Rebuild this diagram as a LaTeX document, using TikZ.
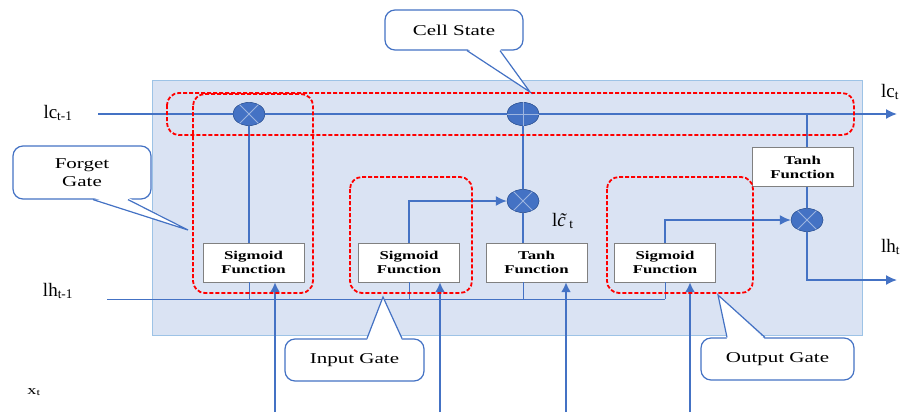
\documentclass[tikz,border=0pt]{standalone}
\usepackage{fontspec}
\setmainfont[FakeStretch=1.4]{Liberation Serif}
\newfontfamily\labelfont{Liberation Serif}
\usetikzlibrary{arrows.meta,shapes.geometric}
\definecolor{lstmblue}{HTML}{4472C4}
\definecolor{opdark}{HTML}{2F528F}
\definecolor{crossblue}{HTML}{9DB5E0}
\definecolor{cellbg}{HTML}{DAE3F3}
\definecolor{cellframe}{HTML}{9DC3E6}
\tikzset{
  fnbox/.style={draw=gray,fill=white,minimum width=101pt,minimum height=39pt,inner sep=0pt,align=center,font=\fontsize{12}{14}\selectfont\bfseries},
  opnode/.style={ellipse,fill=lstmblue,draw=opdark,minimum width=32pt,minimum height=23pt,inner sep=0pt},
  gatebox/.style={draw=red,line width=1.8pt,dash pattern=on 4pt off 2pt,rounded corners=12pt},
  note/.style={draw=lstmblue,line width=1.2pt,fill=white,rounded corners=10pt,inner sep=0pt,align=center,font=\fontsize{15}{18}\selectfont},
  pointer/.style={draw=lstmblue,line width=1.2pt},
  flow/.style={draw=lstmblue,line width=1.6pt},
  wire/.style={draw=lstmblue,line width=1pt},
  feed/.style={draw=lstmblue,line width=2.8pt,-{Latex[length=10pt,width=10pt]}},
  tip/.style={-{Latex[length=11pt,width=10pt]}},
  vlabel/.style={font=\labelfont\fontsize{19}{22}\selectfont}
}
\begin{document}
\begin{tikzpicture}[x=1pt,y=-1pt]
\useasboundingbox (0,0) rectangle (904,412);
\clip (0,0) rectangle (904,412);
\draw[cellframe,fill=cellbg] (152,80) rectangle (862,335);

\node[fnbox] (fs) at (253.5,262.5) {Sigmoid\\Function};
\node[fnbox] (is) at (409,262.5) {Sigmoid\\Function};
\node[fnbox] (ct) at (536.5,262.5) {Tanh\\Function};
\node[fnbox] (os) at (665,262.5) {Sigmoid\\Function};
\node[fnbox] (ot) at (802.5,167) {Tanh\\Function};

\coordinate (cin) at (98,114);
\coordinate (cout) at (897,114);
\coordinate (hin) at (107,299);
\coordinate (hout) at (897,280);
\coordinate (x1) at (275,412);
\coordinate (x2) at (440,412);
\coordinate (x3) at (566,412);
\coordinate (x4) at (690,412);

\node[opnode] (m1) at (249,114) {};
\node[opnode] (p1) at (523,114) {};
\node[opnode] (m2) at (523,201) {};
\node[opnode] (m3) at (807,220) {};

\draw[flow,tip] (cin) -- (cout);
\draw[wire] (hin) -- (hin -| os);
\draw[flow] (m1) -- (fs.north -| m1);
\draw[wire] (fs.south -| m1) -- (hin -| m1);
\draw[wire] (is.south) -- (hin -| is);
\draw[flow,tip] (is.north) |- (m2.west);
\draw[flow] (ct.north -| m2) -- (m2) -- (p1);
\draw[wire] (ct.south -| m2) -- (hin -| m2);
\draw[wire] (os.south) -- (hin -| os);
\draw[flow,tip] (os.north) |- (m3.west);
\draw[flow] (cin -| m3) -- (ot.north -| m3);
\draw[flow] (ot.south -| m3) -- (m3);
\draw[flow,tip] (m3) |- (hout);
\draw[feed] (x1) -- (x1 |- fs.south);
\draw[feed] (x2) -- (x2 |- is.south);
\draw[feed] (x3) -- (x3 |- ct.south);
\draw[feed] (x4) -- (x4 |- os.south);

\foreach \m in {m1,p1,m2,m3}
  \node[opnode] at (\m) {};
\foreach \m in {m1,m2,m3}
  \draw[crossblue,line width=1pt] (\m.45) -- (\m.225) (\m.135) -- (\m.-45);
\draw[crossblue,line width=1pt] (p1.90) -- (p1.270) (p1.0) -- (p1.180);

\draw[gatebox] (167,93) rectangle (854,135);
\draw[gatebox] (193,94) rectangle (313,293);
\draw[gatebox] (350,177) rectangle (472,293);
\draw[gatebox] (607,177) rectangle (753,293);

\node[note,minimum width=138pt,minimum height=40pt] (cellnote) at (454,30) {Cell State};
\node[note,minimum width=138pt,minimum height=53pt] (forgetnote) at (82,172.5) {Forget\\Gate};
\node[note,minimum width=139pt,minimum height=42pt] (inputnote) at (354.5,360) {Input Gate};
\node[note,minimum width=153pt,minimum height=42pt] (outputnote) at (777.5,359) {Output Gate};
\coordinate (celltip) at (530,92);
\coordinate (forgettip) at (188,230);
\coordinate (inputtip) at (383,297);
\coordinate (outputtip) at (718,295);
\fill[white] ([xshift=13pt,yshift=2pt]cellnote.south) -- (celltip) -- ([xshift=46pt,yshift=2pt]cellnote.south) -- cycle;
\draw[pointer] ([xshift=13pt]cellnote.south) -- (celltip) -- ([xshift=46pt]cellnote.south);
\fill[white] ([xshift=11pt,yshift=2pt]forgetnote.south) -- (forgettip) -- ([xshift=46pt,yshift=2pt]forgetnote.south) -- cycle;
\draw[pointer] ([xshift=11pt]forgetnote.south) -- (forgettip) -- ([xshift=46pt]forgetnote.south);
\fill[white] ([xshift=12.5pt,yshift=-2pt]inputnote.north) -- (inputtip) -- ([xshift=47.5pt,yshift=-2pt]inputnote.north) -- cycle;
\draw[pointer] ([xshift=12.5pt]inputnote.north) -- (inputtip) -- ([xshift=47.5pt]inputnote.north);
\fill[white] ([xshift=-50.5pt,yshift=-2pt]outputnote.north) -- (outputtip) -- ([xshift=-12.5pt,yshift=-2pt]outputnote.north) -- cycle;
\draw[pointer] ([xshift=-50.5pt]outputnote.north) -- (outputtip) -- ([xshift=-12.5pt]outputnote.north);

\node[vlabel] (cprev) at (58,113) {lc\textsubscript{t-1}};
\node[vlabel] (hprev) at (58,291) {lh\textsubscript{t-1}};
\node[font=\fontsize{13}{15}\selectfont] (xt) at (34,392) {x\textsubscript{t}};
\node[vlabel,anchor=west,inner sep=0pt] (cnext) at (881,92) {lc\textsubscript{t}};
\node[vlabel,anchor=west,inner sep=0pt] (hnext) at (881,247) {lh\textsubscript{t}};
\node[vlabel,anchor=west,inner sep=0pt] (cand) at (552,221) {l\textit{c̃}\kern-4pt\textsubscript{t}};
\end{tikzpicture}
\end{document}
